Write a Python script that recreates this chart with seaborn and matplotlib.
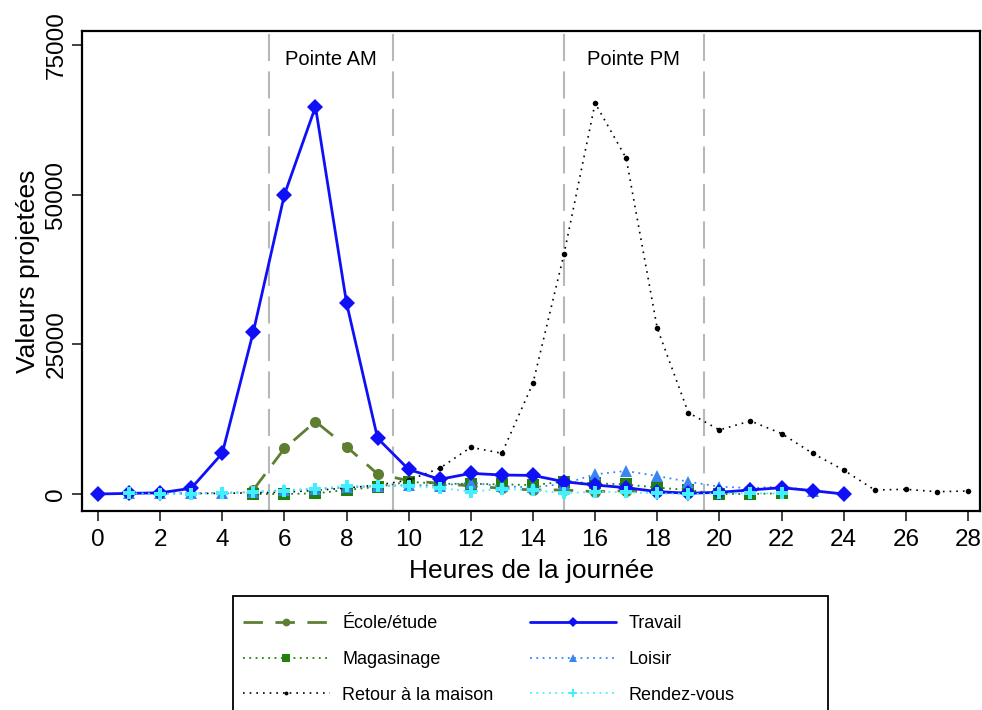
import numpy as np
import pandas as pd
import matplotlib
matplotlib.use("Agg")
import matplotlib.pyplot as plt
import matplotlib.patches as mpatches
import seaborn as sns

# Valeurs projetées par heure
heures_travail = list(range(0, 25))
travail = [0, 100, 200, 950, 6800, 27100, 50000, 64700, 31900, 9300, 4100, 2450,
           3450, 3170, 3100, 2050, 1500, 1050, 400, 120, 280, 670, 1050, 550, 0]

heures_ecole = list(range(5, 20))
ecole = [700, 7600, 12100, 7900, 3340, 2230, 1780, 1340, 950, 670, 670, 390, 550, 280, 220]

heures_magasin = list(range(5, 23))
magasinage = [0, 0, 100, 670, 1200, 2050, 1700, 1700, 1600, 1500, 2050, 1780, 1600,
              1060, 670, 0, 0, 100]

heures_loisir = list(range(1, 24))
loisir = [100, 100, 100, 200, 300, 650, 800, 1100, 1300, 1500, 1400, 1900, 1300, 1100,
          1700, 3290, 3840, 3000, 2050, 1220, 1000, 1220, 560]

heures_rdv = list(range(1, 23))
rendez_vous = [100, 50, 50, 100, 400, 500, 900, 1340, 1340, 1340, 1000, 400, 830, 700,
               100, 400, 300, 100, 0, 100, 100, 100]

heures_retour = list(range(2, 29))
retour = [100, 100, 100, 200, 300, 600, 1000, 1500, 2300, 4300, 7800, 6800, 18500,
          40100, 65300, 56100, 27700, 13600, 10700, 12200, 10100, 6800, 4000, 670, 780,
          380, 500]

pointes = [5.5, 9.5, 15, 19.5]
etiquettes_pointes = ["Pointe AM", "Pointe PM"]
x_ticks = list(range(0, 29, 2))
y_ticks = [0, 25000, 50000, 75000]

sns.set_style("white")
plt.rcParams['font.family'] = ['Liberation Sans', 'DejaVu Sans']
plt.rcParams['text.color'] = 'black'
plt.rcParams['axes.labelcolor'] = 'black'
plt.rcParams['xtick.color'] = '#333333'
plt.rcParams['ytick.color'] = '#333333'
plt.rcParams['xtick.labelcolor'] = 'black'
plt.rcParams['ytick.labelcolor'] = 'black'

fig = plt.figure(figsize=(9.82, 7.1), dpi=100)
ax = fig.add_axes([0.0835, 0.2803, 0.9145, 0.676])

for xv in pointes:
    ax.axvline(xv, color='#b8b8b8', lw=1.5, linestyle=(0, (13, 5)), zorder=1)

series = [
    ("École/étude", heures_ecole, ecole, dict(color='#5e7e32', marker='o', markersize=8,
                                              linestyle=(0, (7, 4.5)), lw=2)),
    ("Magasinage", heures_magasin, magasinage, dict(color='#22800f', marker='s', markersize=8,
                                                    linestyle=(0, (1, 2.5)), lw=1.3)),
    ("Retour à la maison", heures_retour, retour, dict(color='black', marker='o', markersize=4,
                                                       linestyle=(0, (1, 3)), lw=1.2)),
    ("Travail", heures_travail, travail, dict(color='#1010f8', marker='D', markersize=8,
                                              linestyle='-', lw=2)),
    ("Loisir", heures_loisir, loisir, dict(color='#3a86f0', marker='^', markersize=9,
                                           linestyle=(0, (1, 2.5)), lw=1.3)),
    ("Rendez-vous", heures_rdv, rendez_vous, dict(color='#40f0ff', marker='P', markersize=8,
                                                  linestyle=(0, (1, 2.5)), lw=1.3)),
]

zorders = {"École/étude": 3, "Magasinage": 4, "Retour à la maison": 5, "Travail": 6,
           "Loisir": 5, "Rendez-vous": 7}

for nom, hx, vals, style in series:
    df = pd.DataFrame({"Heure": hx, "Valeur": vals})
    sns.lineplot(data=df, x="Heure", y="Valeur", ax=ax, label=nom,
                 markeredgewidth=0, zorder=zorders[nom], **style)

ax.text(np.mean(pointes[:2]), 72500, etiquettes_pointes[0], ha='center', va='center', fontsize=14.5)
ax.text(np.mean(pointes[2:]), 72500, etiquettes_pointes[1], ha='center', va='center', fontsize=14.5)

ax.set_xlim(-0.515, 28.39)
ax.set_ylim(-2840, 77340)
ax.set_xticks(x_ticks)
ax.set_yticks(y_ticks)
ax.set_yticklabels([str(v) for v in y_ticks], rotation=90, va='center')
ax.tick_params(axis='both', labelsize=17.5, length=7, width=1.3,
               direction='out', bottom=True, left=True)
ax.tick_params(axis='x', pad=6)
ax.set_xlabel("Heures de la journée", fontsize=19, labelpad=6)
ax.set_ylabel("Valeurs projetées", fontsize=19)
for sp in ax.spines.values():
    sp.set_color('black')
    sp.set_linewidth(1.6)

handles, labels = ax.get_legend_handles_labels()
ax.get_legend().remove()
leg = fig.legend(handles, labels, ncol=2, loc='upper left',
                 bbox_to_anchor=(223 / 982, 1 - 595 / 710), fontsize=13,
                 handlelength=4.8, handletextpad=0.7, columnspacing=2.0,
                 labelspacing=1.05, markerscale=0.7, frameon=False, borderpad=0.6)

# cadre de la légende (plus large que son contenu, comme l'original)
fig.patches.append(mpatches.Rectangle((233 / 982, -0.05), (828 - 233) / 982, 0.05 + (710 - 596) / 710,
                                      transform=fig.transFigure, fill=False,
                                      edgecolor='black', lw=1.3))

fig.savefig("out.png", dpi=100)
